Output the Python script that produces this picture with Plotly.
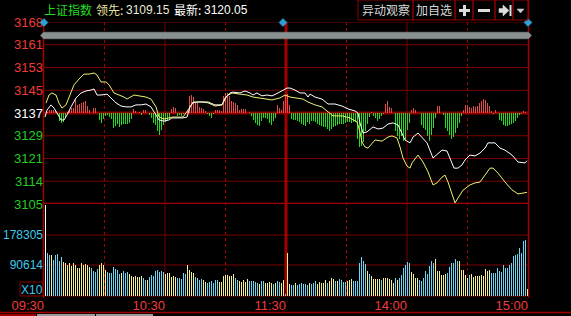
import plotly.graph_objects as go
import numpy as np

W, H = 571, 316
def px(x): return x / W
def py(y): return 1 - y / H

# ---------------- data ----------------
BASE = 3136.5
PRICE_LABELS = ["3168", "3161", "3153", "3145", "3137", "3129", "3121", "3114", "3105"]
PCT_LABELS = ["1.00%", "0.76%", "0.51%", "0.26%", "0.00%", "0.23%", "0.49%", "0.74%", "1.00%"]
VOL_TICKS = [178305, 90614]
TIME_LABELS = ["09:30", "10:30", "11:30", "14:00", "15:00"]

WHITE_T = [0, 1, 3, 4.5, 6, 8, 9.5, 11, 13, 15.5, 18, 20.5, 23, 24.5, 26, 28, 31, 33, 35.5, 38,
           40.5, 43, 45.5, 48, 50.5, 53, 55.5, 57, 59.5, 62, 63.5, 69, 71, 72.5, 74, 76.5, 81.5, 85, 88.5, 90,
           92.5, 94, 97.5, 100, 102.5, 104, 106, 108.5, 111, 113.5, 116.5, 119, 121, 122.5, 125, 127.5, 130, 131.5, 132.5, 135,
           138.5, 141.5, 145, 148.5, 151.5, 155, 156.5, 157.5, 159, 161, 162.5, 164, 166.5, 169, 171.5, 174, 176.5, 178.5, 180, 182.5,
           184, 186.5, 188.5, 191, 194, 196.5, 198.5, 201, 202.5, 204.5, 206.5, 208.5, 210, 212.5, 215, 217.5, 220, 221.5, 225, 227.5,
           230, 233.5, 236.5, 240, 241]
WHITE_P = [3135.1, 3137.5, 3139.3, 3138.2, 3136.5, 3134.1, 3134.1, 3135.8, 3138.6, 3141.7,
           3143.4, 3144.1, 3144.4, 3144.8, 3142.7, 3142.7, 3143.0, 3141.7, 3140.0, 3138.9,
           3138.6, 3138.6, 3139.3, 3139.3, 3139.6, 3138.6, 3135.8, 3134.1, 3133.7, 3134.1,
           3134.8, 3134.8, 3135.1, 3138.6, 3140.0, 3140.3, 3140.3, 3139.3, 3139.3, 3141.7,
           3143.4, 3143.7, 3143.4, 3144.1, 3143.4, 3142.7, 3143.4, 3142.4, 3142.7, 3142.4,
           3143.4, 3144.4, 3145.1, 3145.1, 3144.4, 3143.4, 3143.4, 3142.0, 3143.0, 3142.0,
           3141.3, 3139.6, 3139.6, 3138.9, 3137.9, 3137.2, 3136.5, 3133.1, 3129.6, 3130.0,
           3131.0, 3131.7, 3131.0, 3131.3, 3132.7, 3133.1, 3132.4, 3129.6, 3127.2, 3126.2,
           3128.2, 3129.6, 3128.2, 3126.2, 3121.0, 3122.7, 3123.7, 3123.4, 3121.0, 3117.5,
           3117.5, 3118.6, 3120.3, 3122.0, 3121.7, 3122.7, 3124.4, 3126.2, 3126.2, 3124.4,
           3123.7, 3122.0, 3119.6, 3119.3, 3120.05]

YELLOW_T = [0.5, 2, 3.5, 5.5, 7, 8.5, 10.5, 12, 14.5, 17, 19.5, 22, 24.5, 26, 28, 30.5, 32, 34.5, 37, 39.5,
            41, 44.5, 47, 50.5, 53, 55.5, 57, 59.5, 63.5, 69, 71.5, 74, 78.5, 81.5, 85, 88.5, 91, 93.5, 97.5, 101,
            104, 106.5, 110, 113.5, 117.5, 120, 122.5, 126, 129, 131.5, 135, 138.5, 141.5, 144, 148.5, 152.5, 156, 157.5, 158.5, 160,
            161.5, 163.5, 165, 168.5, 171.5, 173.5, 176, 177.5, 179, 181, 182.5, 183.5, 186.5, 189, 191.5, 194, 196, 198.5, 200, 201.5,
            203.5, 205, 206.5, 209, 212.5, 215, 217.5, 220, 222.5, 224, 226.5, 230, 233.5, 236.5, 239, 241]
YELLOW_P = [3139.9, 3142.7, 3143.4, 3142.7, 3139.9, 3138.2, 3139.3, 3142.0, 3146.2, 3148.2,
            3149.9, 3149.9, 3150.3, 3149.6, 3147.2, 3147.2, 3146.2, 3143.4, 3142.7, 3142.0,
            3141.3, 3142.7, 3142.4, 3142.0, 3141.3, 3138.6, 3135.1, 3134.4, 3135.1, 3135.1,
            3137.5, 3140.3, 3140.3, 3140.0, 3138.9, 3139.3, 3142.4, 3143.4, 3143.0, 3142.7,
            3142.0, 3141.7, 3141.3, 3141.0, 3141.7, 3142.7, 3142.0, 3141.7, 3141.3, 3140.3,
            3139.3, 3138.6, 3136.8, 3135.5, 3135.5, 3134.8, 3133.4, 3129.9, 3126.5, 3124.8,
            3124.4, 3126.2, 3127.2, 3126.8, 3128.2, 3128.6, 3127.9, 3124.8, 3121.0, 3118.2,
            3117.5, 3119.3, 3122.0, 3119.6, 3116.2, 3111.7, 3112.4, 3114.4, 3115.1, 3112.7,
            3108.2, 3105.5, 3107.2, 3109.9, 3111.7, 3112.4, 3112.7, 3115.1, 3117.5, 3117.5,
            3115.8, 3112.7, 3110.0, 3108.6, 3108.9, 3109.15]

# buy/sell strength bars around the previous-close line (one per minute slot)
STRENGTH = [0, 1, 3, 3, 3, 2, -1, -8, -10, -9,
            -5, 1, 3, 5, 5, 14, 8, 9, 10, 11,
            12, 7, 3, 0, 5, 5, 0, -7, -10, -6,
            -3, -2, -4, -6, -15, -13, -11, -14, -12, -11,
            -11, -11, -10, -6, 4, 2, 0, 1, -2, 3,
            3, 0, -2, -5, -10, -12, -18, -22, -17, -12,
            -9, -7, -6, 4, 6, 5, -3, -2, -3, -1,
            0, 3, 17, 18, 16, 10, 10, 6, 5, 4,
            2, -1, -3, -5, -1, 3, 3, 3, 2, 17,
            20, 20, 17, 12, 11, 10, 8, 3, 4, 4,
            4, 0, 1, -3, -7, -10, -12, -13, -8, -5,
            -5, -6, -10, -12, -8, -5, 8, 5, 3, 12,
            18, 19, 8, -6, -7, -7, -8, -9, -11, -12,
            -13, -9, -11, -8, -8, -9, -11, -12, -13, -14,
            -14, -16, -18, -16, -14, -13, -12, -11, -11, -11,
            -10, -9, -9, -10, -9, -9, -26, -34, -33, -29,
            -18, -11, -4, 1, -3, -5, -8, -6, -3, -1,
            9, 12, 6, 5, 0, -18, -23, -26, -23, -28,
            -27, -17, -10, 3, 5, 3, 0, 0, -12, -15,
            -17, -23, -28, -22, -15, -5, 7, 7, 0, -2,
            -15, -18, -22, -26, -24, -20, -15, -10, -3, 3,
            8, 8, 6, 5, 7, 6, 7, 10, 12, 14,
            13, 10, 7, 2, -1, 3, 0, -7, -8, -12,
            -13, -13, -12, -11, -10, -8, -5, -2, -1, 2,
            1, 0]

# volume per minute slot, in thousands
VOL_K = [266.0, 124.8, 119.8, 119.8, 105.2, 119.8, 122.8, 102.3, 114.0,
         99.4, 96.5, 90.6, 96.5, 87.7, 96.5, 90.6, 81.8, 81.8, 96.5, 90.6, 93.5, 90.6, 84.8,
         81.8, 73.1, 70.2, 78.9,
         90.6, 96.5, 90.6, 76.0,
         70.2, 67.2, 67.2, 84.8, 78.9, 76.0, 64.3,
         67.2,
         73.1, 67.2, 70.2,
         64.3, 58.5, 55.5, 58.5, 55.5, 55.5, 58.5,
         52.6, 46.8,
         46.8,
         55.5, 61.4, 58.5, 73.1, 76.0, 70.2, 73.1, 70.2,
         64.3, 67.2, 67.2, 55.5, 58.5, 55.5,
         52.6, 52.6, 49.7, 67.2, 64.3,
         90.6, 76.0, 70.2, 67.2,
         55.5, 52.6, 46.8, 49.7,
         46.8, 40.9,
         38.0, 40.9, 43.8, 38.0, 46.8, 46.8,
         40.9, 40.9, 58.5, 61.4, 61.4, 58.5, 58.5, 64.3,
         52.6, 46.8,
         43.8, 40.9, 46.8, 40.9, 49.7,
         43.8, 43.8, 43.8, 40.9, 38.0,
         35.1,
         43.8, 43.8,
         38.0, 38.0, 40.9, 38.0,
         35.1,
         38.0,
         43.8, 40.9,
         38.0, 46.8,
         5.8,
         # afternoon
         125.7,
         35.1,
         32.2, 32.2,
         38.0,
         32.2, 35.1, 38.0, 35.1, 35.1, 32.2,
         38.0,
         35.1, 38.0, 43.8,
         35.1, 40.9, 38.0, 38.0, 46.8,
         38.0,
         43.8, 52.6, 49.7,
         43.8,
         43.8,
         49.7, 46.8, 40.9, 40.9,
         43.8, 46.8, 49.7,
         43.8, 43.8, 43.8, 96.5, 114.0, 102.3, 93.5,
         73.1,
         64.3,
         58.5, 49.7, 49.7, 49.7, 49.7,
         46.8,
         52.6, 52.6, 52.6, 49.7, 46.8, 38.0,
         52.6,
         46.8,
         52.6, 61.4, 81.8, 90.6, 99.4, 96.5,
         70.2, 64.3, 52.6, 52.6,
         46.8, 43.8, 52.6, 73.1, 64.3, 87.7, 102.3, 96.5,
         108.2, 73.1, 73.1, 61.4, 61.4, 64.3,
         67.2, 84.8, 96.5, 96.5, 108.2, 102.3,
         102.3, 76.0, 76.0, 61.4, 52.6,
         61.4,
         64.3, 55.5, 58.5, 58.5, 58.5, 61.4, 58.5, 78.9, 73.1, 76.0,
         67.2, 67.2, 67.2, 81.8, 73.1, 70.2, 90.6, 81.8, 81.8, 90.6, 96.5, 116.9, 119.8, 122.8, 140.3, 125.7, 160.8, 163.7,
         20.5]
# o = opening print, u = cyan bar, d = yellow bar
VOL_SIDE = ("o" + "uuduuuuu" + "d" * 14 + "uuuu" + "dddd" + "u" * 7 + "d" + "uuu" + "d" * 7 + "uu" + "d"
            + "u" * 8 + "d" * 6 + "u" * 5 + "dddd" + "uuuu" + "dd" + "u" * 6 + "d" * 8 + "uu" + "d" * 5
            + "u" * 5 + "d" + "uu" + "dddd" + "u" + "d" + "uu" + "dd" + "u"
            + "d" + "d" + "uu" + "d" + "u" * 6 + "d" + "uuu" + "d" * 5 + "u" + "ddd" + "u" + "d" + "uuuu"
            + "ddd" + "u" * 7 + "d" + "u" + "d" * 5 + "u" + "d" * 6 + "u" + "d" + "u" * 6 + "dddd"
            + "u" * 8 + "d" * 6 + "u" * 6 + "d" * 5 + "u" + "d" * 10 + "u" * 18 + "d")

# ---------------- styling ----------------
BG = "#000000"
GRID = "#7a0000"
GRID_HI = "#a00000"
RED_T = "#f03a3a"
GREEN_T = "#22cc22"
CYAN_T = "#3fc8ec"
BAR_RED = "#e84848"
BAR_GREEN = "#22dd22"
VOL_UP = "#6ad6f4"
VOL_DN = "#f2f090"
LINE_W = "#ffffff"
LINE_Y = "#f0f070"
NUMFONT = "Liberation Sans, Arial, sans-serif"
CJK = "Noto Sans CJK SC, sans-serif"

n_slots = len(VOL_K)
slots = list(range(n_slots))

fig = go.Figure()
fig.add_trace(go.Bar(x=slots, y=STRENGTH,
                     marker=dict(color=[BAR_RED if v > 0 else BAR_GREEN for v in STRENGTH], line_width=0),
                     width=0.5, offset=0, xaxis="x", yaxis="y", showlegend=False, hoverinfo="skip"))
vol_col = {"o": "#ffffff", "u": VOL_UP, "d": VOL_DN}
fig.add_trace(go.Bar(x=slots, y=[v * 1000 for v in VOL_K],
                     marker=dict(color=[vol_col[s] for s in VOL_SIDE], line_width=0),
                     width=0.5, offset=0, xaxis="x", yaxis="y2", showlegend=False, hoverinfo="skip"))
fig.add_trace(go.Scatter(x=YELLOW_T, y=YELLOW_P, mode="lines", line=dict(color=LINE_Y, width=1),
                         xaxis="x", yaxis="y3", showlegend=False))
fig.add_trace(go.Scatter(x=WHITE_T, y=WHITE_P, mode="lines", line=dict(color=LINE_W, width=1),
                         xaxis="x", yaxis="y3", showlegend=False))

lo, hi = BASE * 0.99, BASE * 1.01
levels = list(np.linspace(hi, lo, len(PRICE_LABELS)))
def lab_color(i, n):
    mid = n // 2
    return RED_T if i < mid else ("#ffffff" if i == mid else GREEN_T)
price_text = [f"<span style='color:{lab_color(i, len(PRICE_LABELS))}'>{t}</span>" for i, t in enumerate(PRICE_LABELS)]
pct_text = [f"<span style='color:{lab_color(i, len(PCT_LABELS))}'>{t}</span>" for i, t in enumerate(PCT_LABELS)]

hour = 60.5
time_ticks = [-0.5 + hour * i for i in range(len(TIME_LABELS))]
half_ticks = [-0.5 + hour * (i + 0.5) for i in range(len(TIME_LABELS) - 1)]

XL, XR, YT, YM, YB = 44, 528, 22, 204, 296

fig.update_layout(
    width=W, height=H, margin=dict(l=0, r=0, t=0, b=0, autoexpand=False),
    paper_bgcolor=BG, plot_bgcolor=BG, barmode="overlay", bargap=0,
    xaxis=dict(domain=[px(XL), px(XR)], range=[-0.5, n_slots - 0.5], anchor="y2", automargin=False,
               tickmode="array", tickvals=time_ticks, ticktext=TIME_LABELS,
               ticklabelposition="outside left", ticks="", showgrid=False, zeroline=False,
               showline=False, tickfont=dict(color=RED_T, size=13, family=NUMFONT)),
    yaxis=dict(domain=[py(YM), py(YT)], range=[-91, 91], visible=False, fixedrange=True, automargin=False),
    yaxis2=dict(domain=[py(YB), py(YM)], range=[0, 92 * 2923], anchor="x", automargin=False,
                tickmode="array", tickvals=VOL_TICKS, ticktext=[str(v) for v in VOL_TICKS],
                ticks="", showgrid=False, zeroline=False, showline=False,
                tickfont=dict(color=CYAN_T, size=12, family=NUMFONT)),
    yaxis3=dict(overlaying="y", range=[lo, hi], anchor="x", side="left", automargin=False,
                tickmode="array", tickvals=levels, ticktext=price_text,
                ticks="", showgrid=False, zeroline=False, showline=False,
                tickfont=dict(size=13, family=NUMFONT)),
    yaxis4=dict(overlaying="y", range=[lo, hi], anchor="x", side="right", automargin=False,
                tickmode="array", tickvals=levels, ticktext=pct_text,
                ticks="", showgrid=False, zeroline=False, showline=False,
                tickfont=dict(size=13, family=NUMFONT)),
)

shapes = []
def hline_data(yref, y, color=GRID, width=1, x0=XL, x1=XR, dash="solid"):
    shapes.append(dict(type="line", xref="paper", yref=yref, x0=px(x0), x1=px(x1), y0=y, y1=y,
                       line=dict(color=color, width=width, dash=dash), layer="below"))
def hline_px(y, color=GRID, width=1, x0=XL, x1=XR, layer="below"):
    shapes.append(dict(type="line", xref="paper", yref="paper", x0=px(x0), x1=px(x1), y0=py(y), y1=py(y),
                       line=dict(color=color, width=width), layer=layer))
def vline_data(x, y0, y1, color=GRID, width=1, dash="solid", layer="below"):
    shapes.append(dict(type="line", xref="x", yref="paper", x0=x, x1=x, y0=py(y0), y1=py(y1),
                       line=dict(color=color, width=width, dash=dash), layer=layer))
def vline_px(x, y0, y1, color=GRID, width=1, layer="below"):
    shapes.append(dict(type="line", xref="paper", yref="paper", x0=px(x), x1=px(x), y0=py(y0), y1=py(y1),
                       line=dict(color=color, width=width), layer=layer))
def rect_px(x0, y0, x1, y1, line=GRID, fill=None, width=1, layer="below"):
    shapes.append(dict(type="rect", xref="paper", yref="paper", x0=px(x0), x1=px(x1), y0=py(y1), y1=py(y0),
                       line=dict(color=line, width=width), fillcolor=fill, layer=layer))
def path_px(pts, fill, line=None, layer="above"):
    d = "M " + " L ".join(f"{px(x)},{py(y)}" for x, y in pts) + " Z"
    shapes.append(dict(type="path", xref="paper", yref="paper", path=d, fillcolor=fill,
                       line=dict(color=line or fill, width=0.5), layer=layer))

# price grid
for i, lv in enumerate(levels):
    if i == len(levels) // 2:
        hline_data("y3", lv, "#8c0000", 3)
    elif i == len(levels) - 1:
        hline_data("y3", lv, GRID_HI, 2.5)
    else:
        hline_data("y3", lv, GRID, 1)
# volume grid
for v in VOL_TICKS:
    hline_data("y2", v, GRID, 1)
hline_px(YB, GRID, 1)
# vertical grid
for i, t in enumerate(time_ticks[1:-1]):
    if i == 1:
        vline_data(t, YT, YB, GRID_HI, 3)
    else:
        vline_data(t, YT, YB, GRID, 1)
for t in half_ticks:
    vline_data(t, YT, YB, "#a00000", 1, dash="dot")
vline_px(XL - 0.5, 20, 298, GRID_HI, 1.5)
vline_px(XR + 0.5, 0, 298, GRID_HI, 1.5)

# bottom strip and tabs
hline_px(312.5, GRID_HI, 1.5, 0, W)
rect_px(0, 314, 36, 316, line="#a00000", fill="#a00000", width=0)
rect_px(37, 314, 95, 316, line="#9a9a9a", fill="#9a9a9a", width=0)
rect_px(96, 314, 153, 316, line="#9a9a9a", fill="#9a9a9a", width=0)

# scroll bar and markers
path_px([(40.5, 35.5), (43.5, 32.2), (528.5, 32.2), (531.5, 35.5), (528.5, 38.8), (43.5, 38.8)], "#889090")
for cx in (44, 283, 528):
    path_px([(cx, 18.5), (cx + 4, 22.5), (cx, 26.5), (cx - 4, 22.5)], "#2f9fd3", layer="above")

# header buttons
btn_edges = [358, 413, 455, 473, 495, 513, 528]
for a, b in zip(btn_edges[:-1], btn_edges[1:]):
    rect_px(a, 0, b, 20, line="#8c0000", width=1, layer="above")
rect_px(459, 9, 470, 12, line="#dcdcdc", fill="#dcdcdc", width=0, layer="above")
rect_px(463, 5, 466, 16, line="#dcdcdc", fill="#dcdcdc", width=0, layer="above")
rect_px(478, 9, 490, 12, line="#dcdcdc", fill="#dcdcdc", width=0, layer="above")
path_px([(499, 8.5), (503, 8.5), (503, 5), (509, 10.5), (503, 16), (503, 12.5), (499, 12.5)], "#dcdcdc")
rect_px(509.5, 5, 511.5, 16, line="#dcdcdc", fill="#dcdcdc", width=0, layer="above")
path_px([(517, 9), (524, 9), (520.5, 13)], "#cfcfcf")

# X10 box
rect_px(20, 282, 43, 296, line="#8c0000", width=1, layer="above")

fig.update_layout(shapes=shapes)

ann = []
def text(x, y, s, color, size=12, anchor="left", family=NUMFONT):
    ann.append(dict(x=px(x), y=py(y), xref="paper", yref="paper", text=s, showarrow=False,
                    xanchor=anchor, yanchor="middle", font=dict(color=color, size=size, family=family)))

text(42, 10, "上证指数", "#22dd22", 12, family=CJK)
text(94, 10, "领先:", "#e8e0a0", 12, family=CJK)
text(124, 10, "3109.15", "#e8e8d8", 12)
text(172, 10, "最新:", "#ffffff", 12, family=CJK)
text(202, 10, "3120.05", "#ffffff", 12)
text(385.5, 10, "异动观察", "#d8d8d8", 12, anchor="center", family=CJK)
text(434, 10, "加自选", "#d8d8d8", 12, anchor="center", family=CJK)
text(31.5, 289.5, "X10", CYAN_T, 12, anchor="center")

fig.update_layout(annotations=ann)
fig.write_html("out.html")
